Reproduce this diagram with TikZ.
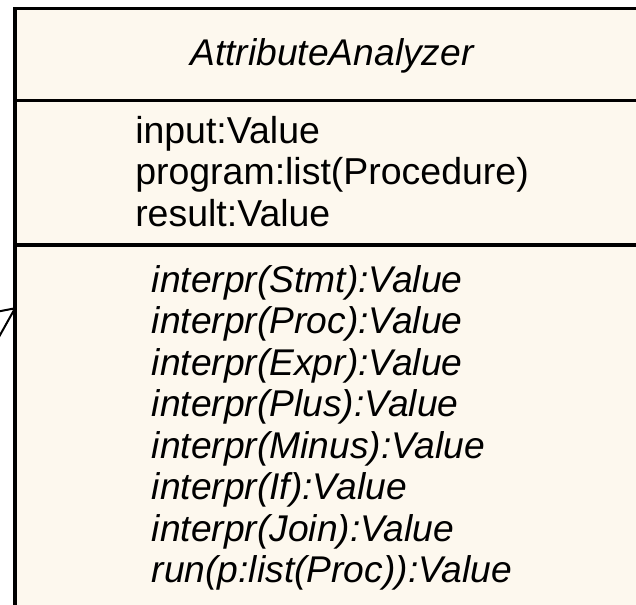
\documentclass[tikz,border=0pt]{standalone}
\usepackage{fontspec}
\setmainfont{Liberation Sans}
\definecolor{classfill}{RGB}{253,248,238}
\tikzset{
  classbox/.style={draw=black, fill=classfill, line width=2.6pt, outer sep=0pt,
    inner sep=0pt, rectangle},
  compartment/.style={draw=black, line width=2.6pt},
  member/.style={anchor=base west, inner sep=0pt, font=\fontsize{28.1}{31}\selectfont},
  operation/.style={member, font=\itshape\fontsize{27.9}{31}\selectfont},
  classname/.style={anchor=base, inner sep=0pt, font=\itshape\fontsize{27.9}{31}\selectfont},
  openhead/.style={draw=black, line width=1.5pt, line join=miter},
}
\begin{document}
\begin{tikzpicture}[x=0.75pt,y=-0.75pt]
\useasboundingbox (0,0) rectangle (636,605);
\clip (0,0) rectangle (636,605);

% class frame
\node[classbox, anchor=north west, minimum width=474.75pt, minimum height=449.3pt]
  (cls) at (15,8.3) {};

% compartment separators
\coordinate (sepA) at (0,100.4);
\coordinate (sepB) at (0,245);
\draw[compartment] (cls.west |- sepA) -- (cls.east |- sepA);
\draw[compartment] (cls.west |- sepB) -- (cls.east |- sepB);

% class name
\node[classname] (title) at (332,66) {AttributeAnalyzer};

% attributes
\node[member] (at1) at (135,143.3) {input:Value};
\node[member] (at2) at (135,185.0) {program:list(Procedure)};
\node[member] (at3) at (135,226.7) {result:Value};

% operations
\foreach \txt [count=\i from 0] in {interpr(Stmt):Value, interpr(Proc):Value,
    interpr(Expr):Value, interpr(Plus):Value, interpr(Minus):Value,
    interpr(If):Value, interpr(Join):Value, run(p:list(Proc)):Value}
  \node[operation] (op\i) at (151.5,292.5+41.5*\i) {\txt};

% open arrowhead of the incoming generalization
\coordinate (tip) at (cls.west |- 0,308.3);
\coordinate (w1) at (-10,313.1);
\coordinate (w2) at (-10,353);
\draw[openhead] (w1) -- (tip) -- (w2);
\end{tikzpicture}
\end{document}
